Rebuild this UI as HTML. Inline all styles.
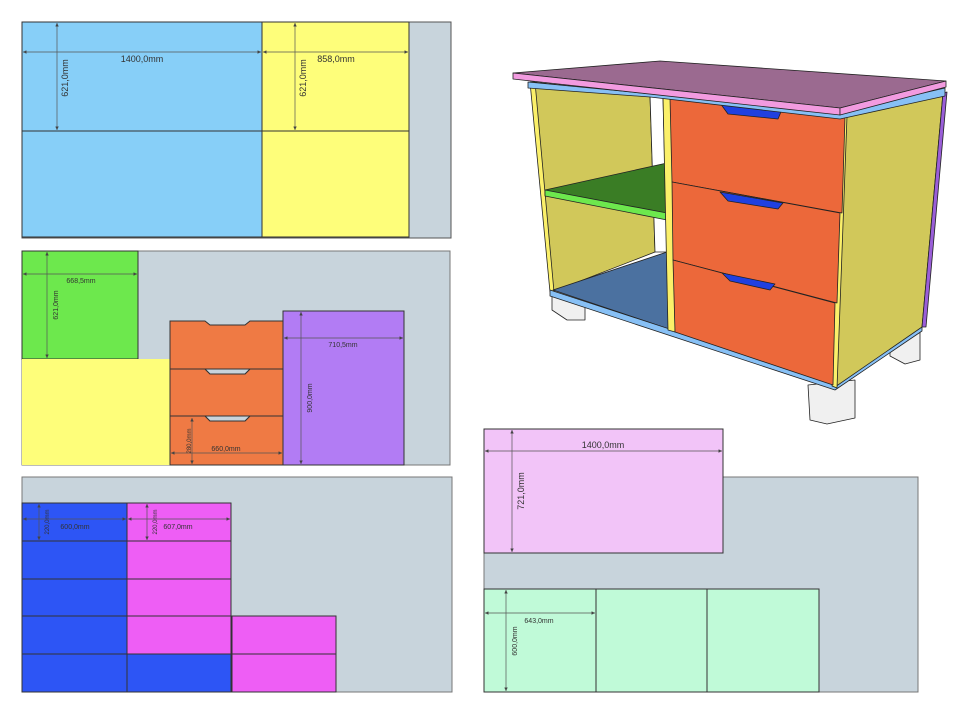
<!DOCTYPE html>
<html><head><meta charset="utf-8"><style>
html,body{margin:0;padding:0;background:#fff;}
svg{display:block;font-family:"Liberation Sans",sans-serif;}
</style></head><body>
<svg width="957" height="718" viewBox="0 0 957 718" xmlns="http://www.w3.org/2000/svg">
<defs><marker id="a" viewBox="0 0 6 6" refX="6" refY="3" markerWidth="5" markerHeight="5" orient="auto-start-reverse"><path d="M0,0L6,3L0,6z" fill="#444"/></marker></defs>
<g stroke="#333" stroke-width="1">
<!-- Panel 1 -->
<rect x="22" y="22" width="429" height="216" fill="#c8d4dc" stroke="#555"/>
<rect x="22" y="22" width="240" height="215" fill="#87cff8"/>
<rect x="262" y="22" width="147" height="215" fill="#fefe7a"/>
<line x1="22" y1="131" x2="409" y2="131"/>
<!-- Panel 2 -->
<rect x="22" y="251" width="428" height="214" fill="#c8d4dc" stroke="#777"/>
<rect x="22" y="251" width="116" height="108" fill="#6de84d"/>
<rect x="22" y="359" width="148" height="106" fill="#fefe7a" stroke="none"/>
<path d="M170,321H205L210,325H245L250,321H283V465H170Z" fill="#ef7a44"/>
<path d="M170,369H205L210,374H245L250,369H283" fill="none"/>
<path d="M205,369L210,374H245L250,369Z" fill="#c8d4dc"/>
<path d="M170,416H205L210,421H245L250,416H283" fill="none"/>
<path d="M205,416L210,421H245L250,416Z" fill="#c8d4dc"/>
<rect x="283" y="311" width="121" height="154" fill="#b27cf4"/>
<!-- Panel 3 -->
<rect x="22" y="477" width="430" height="215" fill="#c8d4dc" stroke="#777"/>
<rect x="22" y="503" width="105" height="189" fill="#2d55f5"/>
<rect x="127" y="503" width="104" height="151" fill="#ee5ef5"/>
<rect x="127" y="654" width="104" height="38" fill="#2d55f5"/>
<rect x="232" y="616" width="104" height="76" fill="#ee5ef5"/>
<line x1="22" y1="541" x2="231" y2="541"/><line x1="22" y1="579" x2="231" y2="579"/>
<line x1="22" y1="616" x2="231" y2="616"/><line x1="22" y1="654" x2="127" y2="654"/>
<line x1="232" y1="654" x2="336" y2="654"/>
<!-- Panel 4 -->
<rect x="484" y="477" width="434" height="215" fill="#c8d4dc" stroke="#777"/>
<rect x="484" y="429" width="239" height="124" fill="#f2c4f8"/>
<rect x="484" y="589" width="335" height="103" fill="#c0fad8"/>
<line x1="596" y1="589" x2="596" y2="692"/><line x1="707" y1="589" x2="707" y2="692"/>
</g>
<!-- dimension lines -->
<g stroke="#555" stroke-width="0.7" marker-start="url(#a)" marker-end="url(#a)">
<line x1="23" y1="52" x2="261" y2="52"/><line x1="57" y1="23" x2="57" y2="130"/>
<line x1="263" y1="52" x2="408" y2="52"/><line x1="295" y1="23" x2="295" y2="130"/>
<line x1="23" y1="274" x2="137" y2="274"/><line x1="47" y1="252" x2="47" y2="358"/>
<line x1="284" y1="338" x2="403" y2="338"/><line x1="301" y1="312" x2="301" y2="464"/>
<line x1="171" y1="453" x2="282" y2="453"/><line x1="192" y1="418" x2="192" y2="464"/>
<line x1="23" y1="519" x2="126" y2="519"/><line x1="39" y1="504" x2="39" y2="540"/>
<line x1="128" y1="519" x2="230" y2="519"/><line x1="147" y1="504" x2="147" y2="540"/>
<line x1="485" y1="451" x2="722" y2="451"/><line x1="512" y1="430" x2="512" y2="552"/>
<line x1="485" y1="613" x2="595" y2="613"/><line x1="506" y1="590" x2="506" y2="691"/>
</g>
<g fill="#333" font-size="8">
<text x="142" y="62" text-anchor="middle" font-size="9">1400,0mm</text>
<text x="336" y="62" text-anchor="middle" font-size="9">858,0mm</text>
<text transform="translate(68,78) rotate(-90)" text-anchor="middle" font-size="9">621,0mm</text>
<text transform="translate(306,78) rotate(-90)" text-anchor="middle" font-size="9">621,0mm</text>
<text x="81" y="283" text-anchor="middle" font-size="7">668,5mm</text>
<text transform="translate(58,305) rotate(-90)" text-anchor="middle" font-size="7">621,0mm</text>
<text x="343" y="347" text-anchor="middle" font-size="7">710,5mm</text>
<text transform="translate(312,398) rotate(-90)" text-anchor="middle" font-size="7">900,0mm</text>
<text x="226" y="451" text-anchor="middle" font-size="7">660,0mm</text>
<text transform="translate(191,441) rotate(-90)" text-anchor="middle" font-size="6">280,0mm</text>
<text x="75" y="529" text-anchor="middle" font-size="7">600,0mm</text>
<text x="178" y="529" text-anchor="middle" font-size="7">607,0mm</text>
<text transform="translate(49,522) rotate(-90)" text-anchor="middle" font-size="6">220,0mm</text>
<text transform="translate(157,522) rotate(-90)" text-anchor="middle" font-size="6">220,0mm</text>
<text x="603" y="448" text-anchor="middle" font-size="9">1400,0mm</text>
<text transform="translate(524,491) rotate(-90)" text-anchor="middle" font-size="9">721,0mm</text>
<text x="539" y="623" text-anchor="middle" font-size="7">643,0mm</text>
<text transform="translate(517,641) rotate(-90)" text-anchor="middle" font-size="7">600,0mm</text>
</g>
<!-- 3D furniture -->
<g stroke="#222" stroke-width="0.8" stroke-linejoin="round">
<polygon points="552,292 585,302 585,320 567,320 552,310" fill="#f0f0f0"/>
<polygon points="808,385 855,380 855,418 827,424 810,420" fill="#f0f0f0"/>
<polygon points="890,345 920,332 920,360 905,364 890,356" fill="#f0f0f0"/>
<polygon points="533,82 650,95 655,252 552,292" fill="#d1c85a"/>
<polygon points="530,82 535,82 554,292 550,292" fill="#fbf06a"/>
<polygon points="650,95 663,97 667,252 655,252" fill="#ffffff"/>
<polygon points="545,190 667,163 667,218 545,195" fill="#3a7d25"/>
<polygon points="545,190 667,213 667,220 545,196" fill="#6de84d"/>
<polygon points="553,290 667,252 672,330" fill="#4b71a0"/>
<polygon points="550,290 835,383 922,325 922,331 835,390 550,296" fill="#87c0f5"/>
<polygon points="663,97 672,97 675,332 668,330" fill="#fbf06a"/>
<polygon points="845,116 943,93 922,327 835,387" fill="#d1c85a"/>
<polygon points="840,116 847,116 837,388 832,386" fill="#fbf06a"/>
<polygon points="943,93 947,92 926,327 922,327" fill="#9a5ed8"/>
<polygon points="670,98 845,117 842,213 672,182" fill="#ec683a"/>
<polygon points="672,182 840,213 837,303 673,260" fill="#ec683a"/>
<polygon points="673,260 835,303 833,385 675,332" fill="#ec683a"/>
<polygon points="720,103 783,107 778,119 728,114" fill="#2040e0"/>
<polygon points="720,192 783,203 778,209 728,201" fill="#2040e0"/>
<polygon points="722,273 775,284 770,290 730,281" fill="#2040e0"/>
<polygon points="528,88 650,97 840,119 945,96 945,88 840,112 528,82" fill="#87c0f5"/>
<polygon points="513,73 660,61 946,81 840,108" fill="#9b6a90"/>
<polygon points="513,73 840,108 840,115 513,79" fill="#f29be0"/>
<polygon points="840,108 946,81 946,87 840,115" fill="#f29be0"/>
</g>
</svg>
</body></html>
